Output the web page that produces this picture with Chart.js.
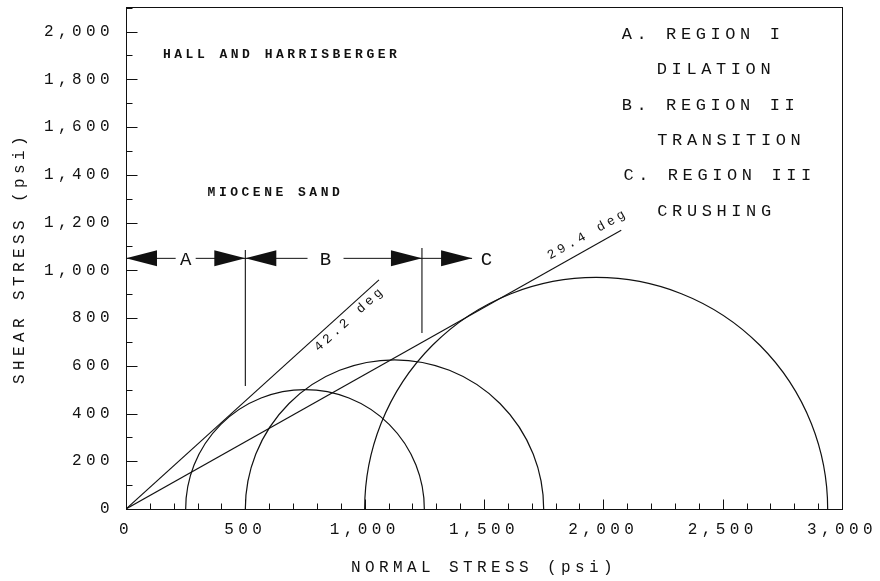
<!DOCTYPE html>
<html>
<head>
<meta charset="utf-8">
<title>Mohr circles - Miocene sand</title>
<script src="https://cdn.jsdelivr.net/npm/chart.js@4.4.1/dist/chart.umd.min.js"></script>
<style>
    html, body { margin: 0; padding: 0; background: #fff; }
    canvas { display: block; }
</style>
</head>
<body>
<canvas id="mohrChart" width="880" height="581"></canvas>
<script>
// ===== values (psi) =====

// Mohr circles: minor / major principal stress of each test
const sigma3 = [250, 500, 1000];
const sigma1 = [1250, 1750, 2940];

// failure envelopes through the origin
const envelopeNames = ['42.2 deg', '29.4 deg'];
const envelopeEndX = [1060, 2075];
const envelopeEndY = [960, 1168];

// region boundaries (vertical lines)
const boundaryX = [500, 1240];
const boundaryBottom = [515, 737];
const boundaryTop = [1085, 1093];

// arrow row marking regions A / B / C
const arrowRowY = 1050;
const arrowTipX = [0, 500, 500, 1240, 1450];
const arrowDir = [-1, 1, -1, 1, 1];
const regionLetters = ['A', 'B', 'C'];
const regionLetterX = [250, 836, 1510];

// tick labels
const xMajorTicks = [0, 500, 1000, 1500, 2000, 2500, 3000];
const yMajorTicks = [0, 200, 400, 600, 800, 1000, 1200, 1400, 1600, 1800, 2000];

const legendLines = ['A. REGION I', 'DILATION', 'B. REGION II', 'TRANSITION', 'C. REGION III', 'CRUSHING'];

// ===== placement of the annotations (data units unless noted) =====
const FONT = "'Liberation Mono', 'Courier New', monospace";
const INK = '#111';
const X_MAX = 3000;
const Y_MAX = 2103;
const MINOR_STEP = 100;

const notes = [
    { text: 'HALL AND HARRISBERGER', x: 155, y: 1909 },
    { text: 'MIOCENE SAND', x: 342, y: 1331 }
];
const legendX = [2077, 2224, 2077, 2226, 2084, 2226];
const legendY = [1991, 1845, 1696, 1549, 1403, 1253];
const envelopeLabelX = [906, 1955];
const envelopeLabelOffset = [8.5, -13.7];   // px, normal to the line
const letterGap = [20, 36, 0];              // px cleared around each letter

function fmt(v) {
    return v.toLocaleString('en-US');
}

function minorTicks(max) {
    const list = [];
    for (let v = 0; v <= max; v += MINOR_STEP) list.push({ value: v });
    return list;
}

// y is the middle of the capitals, not the baseline
function drawText(ctx, text, x, y, size, spacing, align, angle, weight) {
    ctx.save();
    ctx.translate(x, y);
    if (angle) ctx.rotate(angle);
    ctx.font = (weight || 'normal') + ' ' + size + 'px ' + FONT;
    ctx.letterSpacing = spacing + 'px';
    ctx.textAlign = align;
    ctx.textBaseline = 'alphabetic';
    ctx.fillStyle = INK;
    ctx.fillText(text, align === 'center' ? spacing / 2 : 0, size * 0.33);
    ctx.restore();
}

function segment(ctx, x1, y1, x2, y2) {
    ctx.beginPath();
    ctx.moveTo(x1, y1);
    ctx.lineTo(x2, y2);
    ctx.stroke();
}

const mohrDecor = {
    id: 'mohrDecor',
    beforeDraw(chart) {
        // the scanned figure uses widely spaced typewriter text
        chart.ctx.letterSpacing = '4.4px';
    },
    beforeDatasetsDraw(chart) {
        const { ctx, scales: { x, y } } = chart;
        ctx.save();
        ctx.strokeStyle = INK;
        ctx.lineWidth = 1.2;
        for (let i = 0; i < sigma3.length; i++) {
            const c = (sigma3[i] + sigma1[i]) / 2;
            const r = (sigma1[i] - sigma3[i]) / 2;
            const cx = x.getPixelForValue(c);
            const cy = y.getPixelForValue(0);
            const rx = x.getPixelForValue(c + r) - cx;
            const ry = cy - y.getPixelForValue(r);
            ctx.beginPath();
            ctx.ellipse(cx, cy, rx, ry, 0, Math.PI, 2 * Math.PI);
            ctx.stroke();
        }
        ctx.restore();
    },
    afterDatasetsDraw(chart) {
        const { ctx, chartArea: a, scales: { x, y } } = chart;
        ctx.save();
        ctx.strokeStyle = INK;
        ctx.fillStyle = INK;
        ctx.lineWidth = 1;

        // frame
        const L = Math.round(a.left) + 0.5, T = Math.round(a.top) + 0.5;
        const R = Math.round(a.right) + 0.5, B = Math.round(a.bottom) + 0.5;
        ctx.strokeRect(L, T, R - L, B - T);

        // inward tick marks, every 100 psi
        x.ticks.forEach(t => {
            const v = t.value;
            if (v <= 0 || v >= X_MAX) return;
            const px = Math.round(x.getPixelForValue(v)) + 0.5;
            segment(ctx, px, B, px, B - (xMajorTicks.includes(v) ? 10 : 6));
        });
        y.ticks.forEach(t => {
            const v = t.value;
            if (v <= 0) return;
            const py = Math.round(y.getPixelForValue(v)) + 0.5;
            segment(ctx, L, py, L + (yMajorTicks.includes(v) ? 11 : 6), py);
        });

        // region letters on the arrow row
        const rowPx = y.getPixelForValue(arrowRowY);
        regionLetters.forEach((letter, i) => {
            const px = x.getPixelForValue(regionLetterX[i]);
            if (letterGap[i]) {
                ctx.fillStyle = '#fff';
                ctx.fillRect(px - letterGap[i] / 2, rowPx - 3, letterGap[i], 6);
            }
            drawText(ctx, letter, px, rowPx, 19, 0, 'center', 0);
        });

        // arrowheads
        ctx.fillStyle = INK;
        arrowTipX.forEach((v, i) => {
            const tip = x.getPixelForValue(v);
            const d = arrowDir[i];
            ctx.beginPath();
            ctx.moveTo(tip, rowPx);
            ctx.lineTo(tip - d * 31, rowPx - 8);
            ctx.lineTo(tip - d * 31, rowPx + 8);
            ctx.closePath();
            ctx.fill();
        });

        // envelope angle labels, laid along each line
        envelopeNames.forEach((name, i) => {
            const x0 = x.getPixelForValue(0), y0 = y.getPixelForValue(0);
            const x1 = x.getPixelForValue(envelopeEndX[i]), y1 = y.getPixelForValue(envelopeEndY[i]);
            const ang = Math.atan2(y1 - y0, x1 - x0);
            const f = envelopeLabelX[i] / envelopeEndX[i];
            const off = envelopeLabelOffset[i];
            drawText(ctx, name,
                x0 + f * (x1 - x0) - Math.sin(ang) * off,
                y0 + f * (y1 - y0) + Math.cos(ang) * off,
                13, 3.5, 'center', ang);
        });

        // free text
        notes.forEach(n => {
            drawText(ctx, n.text, x.getPixelForValue(n.x), y.getPixelForValue(n.y), 13, 3.5, 'left', 0, 'bold');
        });
        legendLines.forEach((line, i) => {
            drawText(ctx, line, x.getPixelForValue(legendX[i]), y.getPixelForValue(legendY[i]), 17, 4.6, 'left', 0);
        });

        ctx.restore();
    }
};

function lineSet(points, width) {
    return {
        data: points,
        showLine: true,
        pointRadius: 0,
        borderColor: INK,
        borderWidth: width,
        fill: false
    };
}

const datasets = [];
envelopeEndX.forEach((ex, i) => {
    datasets.push(lineSet([{ x: 0, y: 0 }, { x: ex, y: envelopeEndY[i] }], 1.1));
});
boundaryX.forEach((bx, i) => {
    datasets.push(lineSet([{ x: bx, y: boundaryBottom[i] }, { x: bx, y: boundaryTop[i] }], 1.1));
});
datasets.push(lineSet([{ x: 0, y: arrowRowY }, { x: arrowTipX[arrowTipX.length - 1], y: arrowRowY }], 1));

const tickFont = { family: FONT, size: 16 };

new Chart(document.getElementById('mohrChart'), {
    type: 'scatter',
    data: { datasets: datasets },
    options: {
        responsive: false,
        devicePixelRatio: 1,
        animation: false,
        events: [],
        layout: { padding: { top: 7, right: 38, left: 0, bottom: 0 } },
        plugins: {
            legend: { display: false },
            tooltip: { enabled: false }
        },
        scales: {
            x: {
                type: 'linear',
                position: 'bottom',
                min: 0,
                max: X_MAX,
                grid: { display: false, drawTicks: false },
                border: { display: false },
                ticks: {
                    autoSkip: false,
                    maxRotation: 0,
                    minRotation: 0,
                    padding: 11,
                    color: INK,
                    font: tickFont,
                    callback: v => xMajorTicks.includes(v) ? fmt(v) : ''
                },
                title: {
                    display: true,
                    text: 'NORMAL STRESS (psi)',
                    color: INK,
                    font: tickFont,
                    padding: { top: 0, bottom: 4 }
                },
                afterBuildTicks: s => { s.ticks = minorTicks(X_MAX); },
                afterFit: s => {
                    s.height = 72;
                    s.paddingLeft = 0;
                    s.paddingRight = 0;
                }
            },
            y: {
                type: 'linear',
                position: 'left',
                min: 0,
                max: Y_MAX,
                grid: { display: false, drawTicks: false },
                border: { display: false },
                ticks: {
                    autoSkip: false,
                    padding: 12,
                    color: INK,
                    font: tickFont,
                    callback: v => yMajorTicks.includes(v) ? fmt(v) : ''
                },
                title: {
                    display: true,
                    text: 'SHEAR STRESS (psi)',
                    color: INK,
                    font: tickFont,
                    padding: { top: 10, bottom: 0 }
                },
                afterBuildTicks: s => { s.ticks = minorTicks(Y_MAX); },
                afterFit: s => {
                    s.width = 126;
                    s.paddingTop = 0;
                    s.paddingBottom = 0;
                }
            }
        }
    },
    plugins: [mohrDecor]
});
</script>
</body>
</html>
